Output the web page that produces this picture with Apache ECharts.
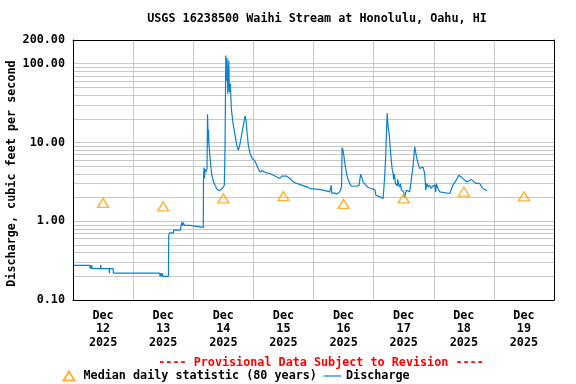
<!DOCTYPE html>
<html><head><meta charset="utf-8">
<script src="https://cdn.jsdelivr.net/npm/echarts@6/dist/echarts.min.js"></script>
<style>html,body{margin:0;padding:0;background:#fff}#c{width:576px;height:384px}</style>
</head><body><div id="c"></div>
<script>
const titleText = 'USGS 16238500 Waihi Stream at Honolulu, Oahu, HI';
const noteText = '---- Provisional Data Subject to Revision ----';
const yAxisName = 'Discharge, cubic feet per second ';
const medianName = 'Median daily statistic (80 years)';
const dischargeName = 'Discharge';
const monthLabel = 'Dec';
const yearLabel = '2025';
const dayLabels = ['12','13','14','15','16','17','18','19'];

// hours since Dec 12 00:00
const hours = [0,6.7,6.8,7.0,7.2,7.5,7.7,8.4,11.0,11.1,11.2,14.4,14.5,14.6,16.0,16.1,34.6,34.7,35.0,35.3,35.6,35.9,38.1,38.2,38.5,38.6,40.1,40.2,42.9,43.0,43.3,43.4,43.7,44.0,44.4,44.5,46.6,46.7,52.0,52.1,52.3,52.5,52.7,53.0,53.5,53.7,54.0,54.1,54.2,54.8,55.4,56.1,56.7,57.5,58.3,59.1,59.9,60.4,60.6,60.7,61.0,61.2,61.5,61.8,62.2,62.4,62.8,63.2,63.9,64.7,65.4,66.0,66.7,67.4,68.0,68.7,69.1,69.5,70.0,70.7,71.5,72.4,73.1,73.9,74.7,75.5,76.7,78.6,80.0,81.3,82.6,83.3,83.9,85.3,86.6,87.9,89.3,91.3,93.3,94.6,97.2,99.9,100.3,100.5,102.5,103.0,103.1,103.3,103.9,104.3,105.2,106.5,107.2,107.4,107.8,108.5,109.2,109.8,110.5,111.2,113.2,114.2,114.8,115.3,115.8,116.9,117.8,119.1,120.5,120.9,121.5,122.5,123.8,124.2,124.4,124.8,125.4,125.8,126.2,126.7,127.1,127.4,127.7,128.0,128.2,128.4,128.7,129.1,129.4,129.6,130.0,130.4,130.7,131.1,132.0,132.3,132.8,133.1,134.4,135.1,135.7,136.4,136.6,137.0,137.7,138.4,139.1,139.7,140.4,140.8,141.3,141.8,142.4,143.0,143.6,144.4,144.8,145.0,145.7,146.4,147.0,150.4,151.0,151.6,152.3,153.0,154.0,154.6,155.0,155.6,156.3,157.6,158.3,158.9,159.6,160.9,161.5,162.3,162.9,163.6,164.9,165.3];
const flow = [0.275,0.275,0.25,0.275,0.25,0.275,0.25,0.25,0.25,0.28,0.25,0.25,0.218,0.25,0.25,0.22,0.22,0.20,0.22,0.20,0.22,0.20,0.20,0.667,0.667,0.713,0.713,0.77,0.77,0.825,0.825,0.965,0.88,0.965,0.965,0.885,0.885,0.835,0.835,3.6,4.8,3.5,4.6,4.2,4.6,22.8,10.1,14.4,10.1,5.95,3.84,3.16,2.87,2.55,2.43,2.55,2.68,2.87,2.9,9.2,127,61,117,41.5,110,43.6,55.6,26.8,17.3,12.3,9.2,7.96,9.7,13,16.5,21.7,19.1,13,9.2,7.2,6.25,5.95,5.4,4.67,4.23,4.4,4.15,4.04,3.84,3.65,3.49,3.75,3.84,3.73,3.49,3.16,3.02,2.87,2.73,2.6,2.55,2.48,2.55,2.48,2.36,2.36,2.87,2.25,2.25,2.3,2.2,2.36,2.73,8.6,7.96,5.5,4.0,3.4,3.0,2.78,2.78,2.87,3.95,3.6,3.16,2.87,2.68,2.6,2.53,2.14,2.04,2.04,1.95,2.0,3.65,6.5,23.6,15.7,12.9,7.96,5.66,4.6,4.23,3.4,4.0,3.65,3.0,3.16,2.8,3.4,2.9,2.73,3.0,2.48,2.36,2.0,2.1,2.48,2.36,3.49,4.89,8.8,8.7,6.9,5.4,4.67,4.44,4.89,4.04,2.48,3.02,2.7,2.87,2.6,2.8,2.87,2.36,3.02,2.6,2.36,2.25,2.25,2.36,2.87,3.02,3.32,3.84,3.95,3.65,3.49,3.32,3.16,3.02,3.4,3.32,3.02,3.15,3.02,2.87,2.6,2.48,2.43];

const medianHours = [12,36,60,84,108,132,156,180];
const medianFlow = [1.71,1.54,1.95,2.08,1.66,1.95,2.38,2.07];

const minorGrid = [0.2,0.3,0.4,0.5,0.6,0.7,0.8,0.9,2,3,4,5,6,7,8,9,20,30,40,50,60,70,80,90];

const FONT = 'DejaVu Sans Mono';
const FS = 11.75;
const txt = {fontFamily: FONT, fontWeight: 'bold', fontSize: FS, color: '#000'};
const GRIDC = '#c8c8c8';
const BLUE = '#0a80d0';
const ORANGE = '#ff9f00';

const chart = echarts.init(document.getElementById('c'), null, {renderer: 'canvas'});
chart.setOption({
  animation: false,
  backgroundColor: '#fff',
  title: [
    {text: titleText, left: 312, top: 8, textAlign: 'center', textStyle: Object.assign({}, txt)},
    {text: noteText, left: 316, top: 352, textAlign: 'center', textStyle: Object.assign({}, txt, {color: '#ff0000'})}
  ],
  legend: [
    {data: [{name: medianName, icon: 'triangle'}], left: 57.5, top: 365, itemWidth: 11, itemHeight: 9,
     selectedMode: false, textStyle: Object.assign({}, txt, {padding: [0,0,0,4]})},
    {data: [{name: dischargeName, icon: 'rect'}], left: 318.5, top: 365, itemWidth: 17.5, itemHeight: 1.2,
     selectedMode: false, itemStyle: {color: BLUE}, textStyle: Object.assign({}, txt)}
  ],
  grid: {left: 73, right: 22, top: 40, bottom: 84, containLabel: false, outerBoundsMode: 'none'},
  xAxis: [
    {type: 'value', min: 0, max: 192, interval: 24, axisLine: {show: false}, axisTick: {show: false},
     axisLabel: {show: false}, splitLine: {show: true, lineStyle: {color: GRIDC, width: 1}}, z: 0},
    {type: 'value', min: 0, max: 192, interval: 12, position: 'bottom', z: 10,
     axisLine: {show: true, onZero: false, lineStyle: {color: '#000', width: 1}}, axisTick: {show: false},
     splitLine: {show: false},
     axisLabel: Object.assign({}, txt, {margin: 9, lineHeight: 13.5,
       formatter: v => (v % 24 === 12 ? monthLabel + '\n' + dayLabels[(v - 12) / 24] + '\n' + yearLabel : '')})},
    {type: 'value', min: 0, max: 192, position: 'top', z: 10,
     axisLine: {show: true, onZero: false, lineStyle: {color: '#000', width: 1}}, axisTick: {show: false},
     axisLabel: {show: false}, splitLine: {show: false}}
  ],
  yAxis: [
    {type: 'log', logBase: 10, min: 0.1, max: 200, z: 0,
     axisLine: {show: false}, axisTick: {show: false},
     axisLabel: Object.assign({}, txt, {margin: 8, formatter: v => Number(v).toFixed(2)}),
     splitLine: {show: true, lineStyle: {color: GRIDC, width: 1}},
     name: yAxisName, nameLocation: 'middle', nameGap: 55, nameMoveOverlap: false,
     nameTextStyle: Object.assign({}, txt)},
    {type: 'value', min: 0, max: 1, position: 'left', z: 10,
     axisLine: {show: true, onZero: false, lineStyle: {color: '#000', width: 1}}, axisTick: {show: false},
     axisLabel: {show: false}, splitLine: {show: false}},
    {type: 'value', min: 0, max: 1, position: 'right', z: 10,
     axisLine: {show: true, onZero: false, lineStyle: {color: '#000', width: 1}}, axisTick: {show: false},
     axisLabel: {show: false}, splitLine: {show: false}}
  ],
  series: [
    {name: 'grid', type: 'line', xAxisIndex: 0, yAxisIndex: 0, data: [], z: 1, silent: true,
     markLine: {silent: true, z: 1, symbol: ['none', 'none'], animation: false, label: {show: false},
       emphasis: {disabled: true},
       lineStyle: {color: GRIDC, width: 1, type: 'solid'},
       data: minorGrid.map(v => ({yAxis: v}))}},
    {name: dischargeName, type: 'line', xAxisIndex: 0, yAxisIndex: 0, z: 3,
     data: hours.map((h, i) => [h, flow[i]]), showSymbol: false, symbol: 'none',
     lineStyle: {color: BLUE, width: 1.2}, itemStyle: {color: BLUE}},
    {name: medianName, type: 'scatter', xAxisIndex: 0, yAxisIndex: 0, z: 4,
     data: medianHours.map((h, i) => [h, medianFlow[i]]), symbol: 'triangle', symbolSize: [11, 9],
     itemStyle: {color: 'rgba(255,255,255,0)', borderColor: ORANGE, borderWidth: 1.4}}
  ]
});
</script>
</body></html>
